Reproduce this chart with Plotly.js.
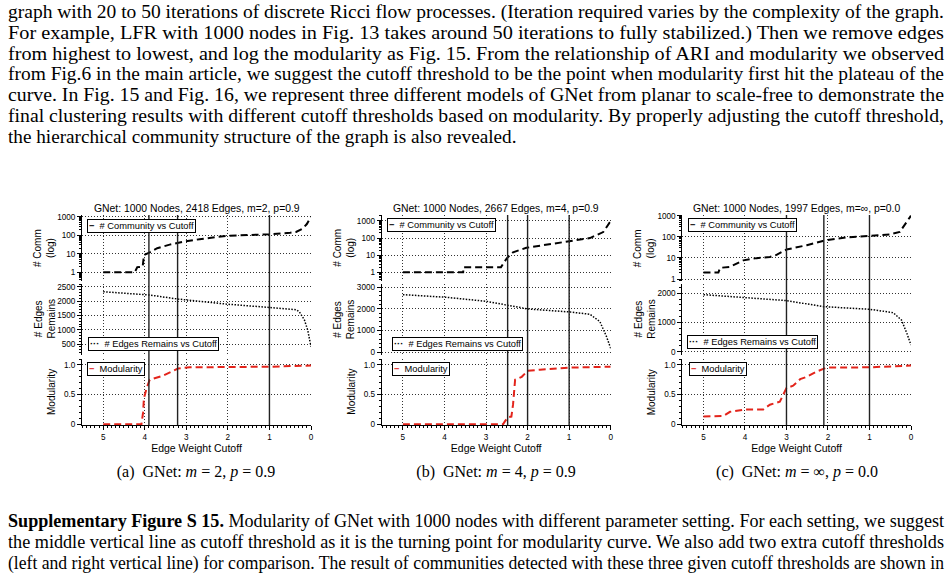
<!DOCTYPE html>
<html><head><meta charset="utf-8">
<script src="https://cdn.plot.ly/plotly-3.0.1.min.js"></script>
<style>
html,body{margin:0;padding:0;background:#fff;}
#page{position:relative;width:952px;height:580px;overflow:hidden;background:#fff;}
#chart{position:absolute;left:0;top:0;width:952px;height:580px;}
.txt{position:absolute;left:8px;width:936px;font-family:"Liberation Serif","Times New Roman",serif;font-size:18px;color:#000;}
.ln{display:block;white-space:nowrap;height:20.8px;line-height:20.8px;}
.ln span{display:inline-block;transform-origin:0 50%;}
.cap{position:absolute;top:463px;font-family:"Liberation Serif","Times New Roman",serif;font-size:16px;line-height:18px;transform:translateX(-50%);white-space:nowrap;color:#000;}
</style></head>
<body>
<div id="page">
<div id="chart"></div>
<div class="txt" style="top:2px">
<div class="ln fit"><span>graph with 20 to 50 iterations of discrete Ricci flow processes. (Iteration required varies by the complexity of the graph.</span></div>
<div class="ln fit"><span>For example, LFR with 1000 nodes in Fig. 13 takes around 50 iterations to fully stabilized.) Then we remove edges</span></div>
<div class="ln fit"><span>from highest to lowest, and log the modularity as Fig. 15. From the relationship of ARI and modularity we observed</span></div>
<div class="ln fit"><span>from Fig.6 in the main article, we suggest the cutoff threshold to be the point when modularity first hit the plateau of the</span></div>
<div class="ln fit"><span>curve. In Fig. 15 and Fig. 16, we represent three different models of GNet from planar to scale-free to demonstrate the</span></div>
<div class="ln fit"><span>final clustering results with different cutoff thresholds based on modularity. By properly adjusting the cutoff threshold,</span></div>
<div class="ln last"><span>the hierarchical community structure of the graph is also revealed.</span></div>
</div>
<div class="cap" style="left:196px">(a)&nbsp; GNet: <i>m</i> = 2, <i>p</i> = 0.9</div>
<div class="cap" style="left:496px">(b)&nbsp; GNet: <i>m</i> = 4, <i>p</i> = 0.9</div>
<div class="cap" style="left:797px">(c)&nbsp; GNet: <i>m</i> = ∞, <i>p</i> = 0.0</div>
<div class="txt" style="top:511px">
<div class="ln fit"><span><b>Supplementary Figure S 15.</b> Modularity of GNet with 1000 nodes with different parameter setting. For each setting, we suggest</span></div>
<div class="ln fit"><span>the middle vertical line as cutoff threshold as it is the turning point for modularity curve. We also add two extra cutoff thresholds</span></div>
<div class="ln fit"><span>(left and right vertical line) for comparison. The result of communities detected with these three given cutoff thresholds are shown in</span></div>
</div>
</div>
<script>
// ---------- DATA ----------
const panelTitles = ['GNet: 1000 Nodes, 2418 Edges, m=2, p=0.9','GNet: 1000 Nodes, 2667 Edges, m=4, p=0.9','GNet: 1000 Nodes, 1997 Edges, m=\u221e, p=0.0'];
const yTitles = ['# Comm<br>(log)', '# Edges<br>Remains', 'Modularity'];
const legendNames = ['# Community vs Cutoff', '# Edges Remains vs Cutoff', 'Modularity'];
const xTickVals = [0,1,2,3,4,5];
const xTickText = ['0','1','2','3','4','5'];

// (a) m=2, p=0.9
const commA_x = [5.0,4.24,4.18,4.05,4.02,3.95,3.88,3.7,3.4,3.08,2.68,2.04,1.48,1.0,0.5,0.36,0.2,0.1,0.0];
const commA_y = [1,1,1.9,2.0,8.5,10,12,20,31,44,61,92,100,113,135,150,228,400,1000];
const edgeA_x = [5.0,3.88,3.2,2.04,1.0,0.44,0.35,0.28,0.16,0.08,0.0];
const edgeA_y = [2335,2218,2076,1900,1782,1724,1700,1630,1347,994,406];
const modA_x  = [5.0,4.08,4.04,4.02,3.95,3.88,3.56,3.2,2.92,2.0,1.0,0.5,0.0];
const modA_y  = [0,0,0.2,0.44,0.62,0.75,0.82,0.94,0.96,0.96,0.97,0.98,0.99];
const cutA = [3.9,3.21,1.0];

// (b) m=4, p=0.9
const commB_x = [5.0,3.55,3.54,2.64,2.5,2.35,2.03,1.7,0.98,0.5,0.18,0.0];
const commB_y = [1,1,2,2,6.6,14.8,27,36,62,100,225,1000];
const edgeB_x = [5.0,3.95,2.99,2.5,1.99,0.98,0.5,0.26,0.1,0.0];
const edgeB_y = [2660,2536,2350,2181,1995,1856,1750,1410,710,170];
const modB_x  = [5.0,2.59,2.55,2.47,2.39,2.35,2.3,2.14,2.0,1.7,0.98,0.18,0.0];
const modB_y  = [0,0,0.045,0.12,0.13,0.33,0.75,0.80,0.90,0.92,0.955,0.97,0.97];
const cutB = [2.48,2.0,1.0];

// (c) m=inf, p=0.0
const commC_x = [5.0,4.64,4.6,4.36,4.04,3.72,3.4,3.24,3.0,2.51,2.03,1.55,0.99,0.51,0.27,0.0];
const commC_y = [2.07,2.07,3.4,3.8,7.7,9.8,11,14,25,40,70,94,112,130,170,1000];
const edgeC_x = [5.0,4.0,3.0,2.11,0.99,0.43,0.23,0.1,0.0];
const edgeC_y = [1954,1863,1750,1543,1451,1337,1086,629,229];
const modC_x  = [5.0,4.52,4.36,4.0,3.56,3.4,3.16,3.0,2.84,2.67,2.51,2.27,2.03,0.99,0.0];
const modC_y  = [0.13,0.14,0.21,0.25,0.25,0.33,0.38,0.61,0.65,0.76,0.80,0.89,0.955,0.96,0.99];
const cutC = [3.0,2.1,1.0];

// ---------- LAYOUT ----------
const W = 952, H = 580;
const FONT = 'Liberation Sans, Arial, Helvetica, sans-serif';
const RED = '#e3241b';
const px = v => v / W, py = v => 1 - v / H;

const cols = [
  {x0:82, x1:311, comm:[commA_x,commA_y], edge:[edgeA_x,edgeA_y], mod:[modA_x,modA_y], cut:cutA,
   logR:[-0.47,3.09], midR:[114,2605], midD:500, midMinor:100,
   leg:[[87,219],[88,337],[87,362]]},
  {x0:381.7, x1:610.7, comm:[commB_x,commB_y], edge:[edgeB_x,edgeB_y], mod:[modB_x,modB_y], cut:cutB,
   logR:[-0.51,3.35], midR:[-139,3153], midD:1000, midMinor:200,
   leg:[[387,218],[392,337],[392,362]]},
  {x0:682.3, x1:911, comm:[commC_x,commC_y], edge:[edgeC_x,edgeC_y], mod:[modC_x,modC_y], cut:cutC,
   logR:[-0.09,3.03], midR:[-113,2318], midD:1000, midMinor:200,
   leg:[[688,218],[687,335],[689,362]]}
];
const rows = [[215,281],[284,355],[359,425]];
const dom = r => [py(r[1]), py(r[0])];

const traces = [], shapes = [], annotations = [];
const layout = {
  width: W, height: H, margin:{l:0,r:0,t:0,b:0},
  paper_bgcolor:'rgba(0,0,0,0)', plot_bgcolor:'rgba(0,0,0,0)',
  showlegend:false, font:{family:FONT, color:'#000', size:9}
};

const tickfont = {family:FONT, size:8.2, color:'#000'};
const titlefont = {family:FONT, size:10.5, color:'#000'};
const ytitlefont = {family:FONT, size:10, color:'#000'};
const GRID = {showgrid:true, gridcolor:'#333', griddash:'1px,2px', gridwidth:1};
function baseY(xid, d){
  return Object.assign({domain:d, anchor:xid, side:'left', showline:true, linecolor:'#000', linewidth:1,
    ticks:'outside', ticklen:4, tickwidth:1, tickcolor:'#000',
    zeroline:false, tickfont:tickfont, automargin:false, fixedrange:true}, GRID);
}

cols.forEach((c, i) => {
  const xid = i === 0 ? 'x' : 'x' + (i + 1);
  const xkey = i === 0 ? 'xaxis' : 'xaxis' + (i + 1);
  const yn = [3*i+1, 3*i+2, 3*i+3];
  const yid = yn.map(n => n === 1 ? 'y' : 'y' + n);
  const ykey = yn.map(n => n === 1 ? 'yaxis' : 'yaxis' + n);

  layout[xkey] = Object.assign({domain:[px(c.x0), px(c.x1)], anchor:yid[2], range:[5.51, 0],
    tickvals:xTickVals, ticktext:xTickText, showline:true, linecolor:'#000', linewidth:1,
    ticks:'outside', ticklen:4, tickcolor:'#000',
    zeroline:false, tickfont:tickfont, automargin:false, fixedrange:true,
    minor:{ticks:'outside', ticklen:2, tickcolor:'#000', dtick:0.1, showgrid:false},
    title:{text:'Edge Weight Cutoff', font:titlefont, standoff:2}}, GRID);

  layout[ykey[0]] = Object.assign(baseY(xid, dom(rows[0])), {type:'log', range:c.logR,
    tickvals:[1,10,100,1000], ticktext:['1','10','100','1000'],
    minor:{ticks:'outside', ticklen:2, tickcolor:'#000', dtick:'D1', showgrid:false}});
  layout[ykey[1]] = Object.assign(baseY(xid, dom(rows[1])), {range:c.midR, dtick:c.midD, tick0:0,
    minor:{ticks:'outside', ticklen:2, tickcolor:'#000', dtick:c.midMinor, showgrid:false}});
  layout[ykey[2]] = Object.assign(baseY(xid, dom(rows[2])), {range:[-0.012, 1.10],
    tickvals:[0,0.5,1], ticktext:['0','0.5','1.0'],
    minor:{ticks:'outside', ticklen:2, tickcolor:'#000', dtick:0.1, showgrid:false}});

  traces.push({type:'scatter', mode:'lines', x:c.comm[0], y:c.comm[1], xaxis:xid, yaxis:yid[0],
    name:legendNames[0], line:{color:'#000', width:2, dash:'7px,4px'}});
  traces.push({type:'scatter', mode:'lines', x:c.edge[0], y:c.edge[1], xaxis:xid, yaxis:yid[1],
    name:legendNames[1], line:{color:'#000', width:1.5, dash:'1.5px,1.5px'}});
  traces.push({type:'scatter', mode:'lines', x:c.mod[0], y:c.mod[1], xaxis:xid, yaxis:yid[2],
    name:legendNames[2], line:{color:RED, width:2, dash:'7px,4px'}});

  c.cut.forEach(v => shapes.push({type:'line', xref:xid, yref:'paper', x0:v, x1:v,
    y0:py(425), y1:py(215), line:{color:'#222', width:1.4}}));

  // panel title
  annotations.push({xref:'paper', yref:'paper', x:px((c.x0 + c.x1) / 2), y:py(208),
    xanchor:'center', yanchor:'middle', showarrow:false, text:panelTitles[i],
    font:{family:FONT, size:10.4, color:'#000'}});

  // rotated y-axis titles placed close to the axis
  yTitles.forEach((t, k) => {
    const twoLine = t.indexOf('<br>') >= 0;
    annotations.push({xref:'paper', yref:'paper', x:px(c.x0 - (twoLine ? 38 : 31)),
      y:py((rows[k][0] + rows[k][1]) / 2), xanchor:'center', yanchor:'middle', textangle:-90,
      showarrow:false, text:t, font:ytitlefont});
  });

  // boxed legends
  const samples = ['<b>\u2212</b>', '<b>\u00b7\u00b7\u00b7</b>', '<span style="color:' + RED + '"><b>\u2212</b></span>'];
  legendNames.forEach((t, k) => annotations.push({xref:'paper', yref:'paper',
    x:px(c.leg[k][0]), y:py(c.leg[k][1]), xanchor:'left', yanchor:'top', showarrow:false,
    text:samples[k] + '\u00a0\u00a0' + t, font:{family:FONT, size:9.3, color:'#000'}, bgcolor:'#fff',
    bordercolor:'#000', borderwidth:1, borderpad:1}));
});
layout.shapes = shapes;
layout.annotations = annotations;

Plotly.newPlot('chart', traces, layout, {staticPlot:true, displayModeBar:false});

// fit justified text lines to the column width
(function(){
  const target = 936;
  const scales = [];
  document.querySelectorAll('.ln.fit span').forEach(s => {
    const w = s.getBoundingClientRect().width;
    const k = target / w; scales.push(k);
    s.style.transform = 'scaleX(' + k + ')';
  });
  const avg = scales.reduce((a,b)=>a+b,0) / scales.length;
  document.querySelectorAll('.ln.last span').forEach(s => { s.style.transform = 'scaleX(' + avg + ')'; });
})();
</script>
</body></html>
